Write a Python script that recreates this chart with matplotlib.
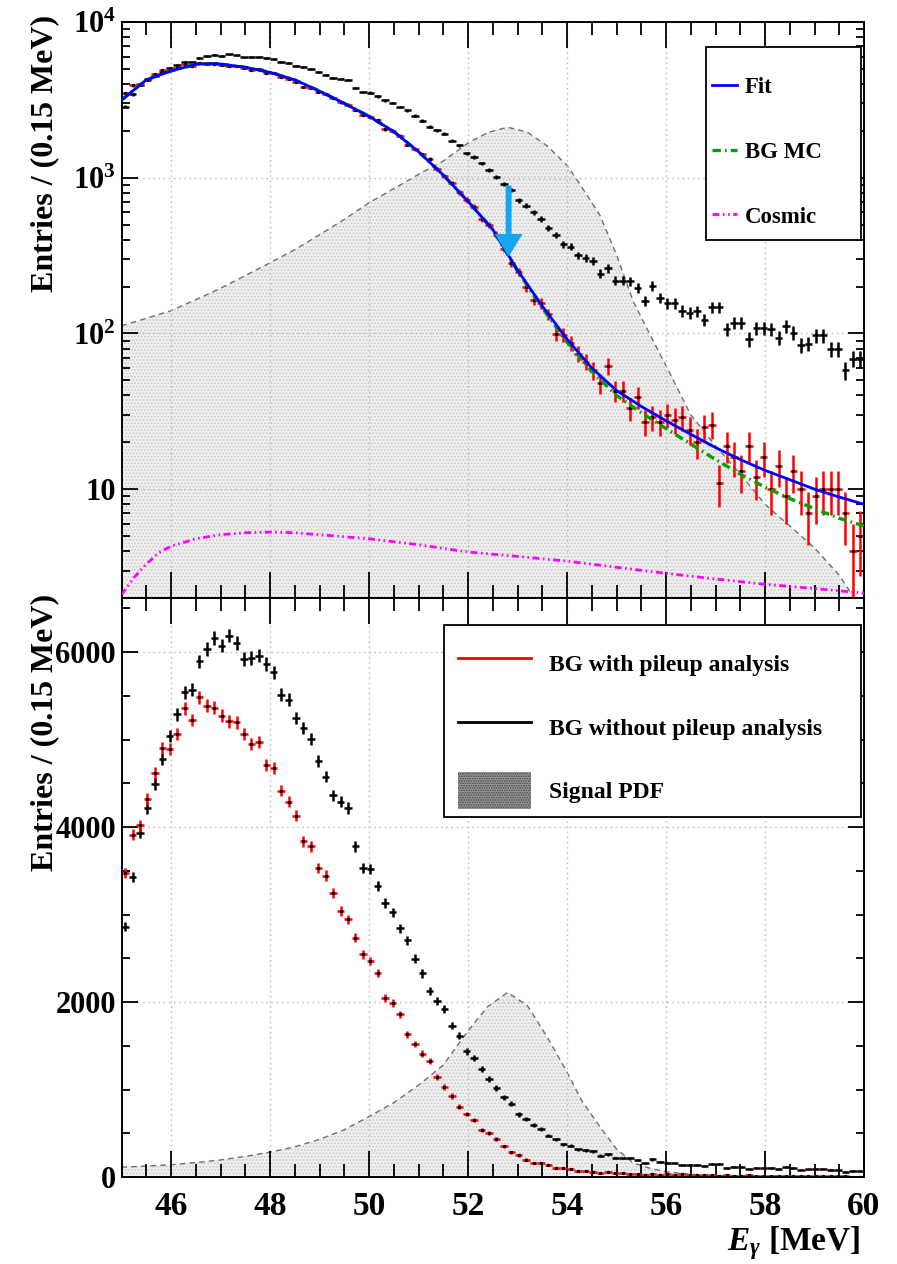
import numpy as np
import matplotlib
matplotlib.use('Agg')
import matplotlib.pyplot as plt
from matplotlib.ticker import FixedLocator, MultipleLocator, LogLocator, NullFormatter, FixedFormatter
from matplotlib.lines import Line2D
from matplotlib.patches import Patch, Rectangle

plt.rcParams['font.family'] = ['Liberation Serif', 'DejaVu Serif']
plt.rcParams['font.weight'] = 'bold'
plt.rcParams['mathtext.fontset'] = 'custom'
plt.rcParams['mathtext.rm'] = 'Liberation Serif:bold'
plt.rcParams['mathtext.bf'] = 'Liberation Serif:bold'
plt.rcParams['mathtext.it'] = 'Liberation Serif:italic:bold'
plt.rcParams['hatch.linewidth'] = 0.8
plt.rcParams['lines.scale_dashes'] = False

# histogram binning: 45-60 MeV, 0.15 MeV bins
x_lo, x_hi, bin_w = 45.0, 60.0, 0.15

# BG with pileup analysis (red)
bg_with = [3478, 3912, 4019, 4324, 4621, 4903, 4895, 5067, 5360, 5227,
           5486, 5390, 5364, 5276, 5208, 5200, 5067, 4952, 4971, 4705,
           4678, 4419, 4293, 4133, 3838, 3779, 3535, 3447, 3248, 3045,
           2945, 2735, 2545, 2469, 2335, 2050, 1985, 1859, 1631, 1520,
           1410, 1326, 1139, 1029, 926, 804, 720, 651, 540, 499,
           431, 351, 285, 249, 199, 164, 157, 133, 99, 98,
           87, 74, 66, 58, 48, 62, 43, 43, 33, 39,
           27, 29, 27, 30, 28, 29, 24, 20, 25, 26,
           11, 19, 16, 13, 19, 12, 16, 10, 14, 9,
           13, 10, 7, 9, 10, 10, 10, 7, 4, 5]

# BG without pileup analysis (black)
bg_without = [2861, 3428, 3935, 4217, 4495, 4777, 5044, 5288, 5543, 5570,
              5897, 6038, 6164, 6076, 6190, 6103, 5924, 5935, 5962, 5867,
              5771, 5516, 5455, 5249, 5135, 5009, 4758, 4579, 4362, 4293,
              4217, 3779, 3535, 3524, 3328, 3135, 3025, 2845, 2705, 2497,
              2328, 2126, 2013, 1920, 1730, 1615, 1435, 1360, 1234, 1122,
              1015, 912, 835, 715, 662, 598, 545, 474, 430, 373,
              360, 317, 305, 292, 242, 262, 218, 218, 217, 196,
              162, 202, 169, 157, 157, 140, 136, 139, 122, 147,
              147, 107, 117, 117, 92, 108, 108, 106, 94, 111,
              101, 84, 86, 97, 97, 79, 79, 58, 69, 69]

# fit curve (blue)
fit_x = [45.0, 45.5, 46.0, 46.5, 46.9, 47.5, 48.0, 48.5, 49.0, 49.5,
         50.0, 50.5, 51.0, 51.5, 52.0, 52.5, 53.0, 53.5, 54.0, 54.5,
         55.0, 55.5, 56.0, 56.5, 57.0, 57.5, 58.0, 58.5, 59.0, 59.5, 60.0]
fit_y = [3150, 4250, 4850, 5350, 5420, 5120, 4750, 4250, 3600, 3000,
         2480, 1980, 1470, 1040, 705, 465, 255, 150, 92, 60,
         43, 34, 27.5, 22.5, 18.5, 15.5, 13.2, 11.5, 10.0, 8.9, 8.0]

# BG MC (green)
mc_x = [45.0, 45.5, 46.0, 46.5, 46.9, 47.5, 48.0, 48.5, 49.0, 49.5,
        50.0, 50.5, 51.0, 51.5, 52.0, 52.5, 53.0, 53.5, 54.0, 54.5,
        55.0, 55.5, 56.0, 56.5, 57.0, 57.5, 58.0, 58.5, 59.0, 59.5, 60.0]
mc_y = [3150, 4250, 4850, 5350, 5420, 5120, 4750, 4250, 3600, 3000,
        2480, 1980, 1470, 1040, 705, 465, 252, 146, 88, 57,
        40, 31, 24.5, 19.5, 15.5, 12.5, 10.3, 8.7, 7.5, 6.5, 5.8]

# cosmic (magenta)
cosmic_x = [45.0, 45.25, 45.5, 45.75, 46.0, 46.5, 47.0, 47.5, 48.0, 48.5,
            49.0, 50.0, 51.0, 52.0, 53.0, 54.0, 55.0, 56.0, 57.0, 58.0,
            59.0, 60.0]
cosmic_y = [2.1, 2.7, 3.3, 3.9, 4.3, 4.8, 5.1, 5.25, 5.3, 5.25,
            5.1, 4.8, 4.4, 3.95, 3.7, 3.45, 3.15, 2.88, 2.65, 2.45,
            2.3, 2.15]

# signal PDF (gray)
sig_x = [45.0, 45.5, 46.0, 46.65, 47.0, 47.5, 48.0, 48.5, 49.0, 49.5,
         50.0, 50.5, 51.0, 51.5, 52.0, 52.4, 52.8, 53.2, 53.6, 54.0,
         54.3, 54.67, 55.0, 55.34, 55.7, 56.0, 56.5, 57.0, 57.5, 58.0,
         58.5, 59.0, 59.5, 59.8]
sig_y = [112, 125, 140, 173, 195, 235, 284, 345, 430, 540,
         690, 850, 1050, 1280, 1670, 1950, 2110, 1960, 1600, 1200,
         870, 570, 320, 160, 95, 62, 30, 19, 12.5, 8.0,
         5.8, 4.2, 2.8, 2.0]

centers = x_lo + bin_w * (np.arange(len(bg_with)) + 0.5)
red = np.array(bg_with, dtype=float)
blk = np.array(bg_without, dtype=float)

fig = plt.figure(figsize=(8.97, 12.64), dpi=100)
L, R = 121.5 / 897, 864 / 897
ax1 = fig.add_axes([L, 1 - 598 / 1264, R - L, 576 / 1264])
ax2 = fig.add_axes([L, 1 - 1177 / 1264, R - L, 579 / 1264], sharex=ax1)

sig_fill = dict(facecolor='#f0f0f0', edgecolor='#c8c8c8', hatch='.....', linewidth=0)
sig_line = dict(color='#707070', lw=1.0, dashes=(4, 3))
err_kw = dict(fmt='none', elinewidth=1.8, capsize=0)

# ---- top panel (log) ----
ax1.fill_between(sig_x, sig_y, 1e-3, zorder=1, **sig_fill)
ax1.plot(sig_x, sig_y, zorder=1.2, **sig_line)
ax1.errorbar(centers, blk, xerr=bin_w / 2, yerr=np.sqrt(blk), ecolor='black', zorder=2, **err_kw)
ax1.errorbar(centers, red, xerr=bin_w / 2, yerr=np.sqrt(red), ecolor='red', zorder=2.1, **err_kw)
ax1.plot(centers, red, 's', ms=1.3, color='black', zorder=2.2)
ax1.plot(mc_x, mc_y, color='#00a000', lw=2.4, dashes=(6, 3, 1.2, 3), zorder=3)
ax1.plot(fit_x, fit_y, color='blue', lw=2.0, zorder=3.1)
ax1.plot(cosmic_x, cosmic_y, color='magenta', lw=2.0, dashes=(5, 2.5, 1.2, 2.5, 1.2, 2.5), zorder=3)
ax1.annotate('', xy=(52.82, 310), xytext=(52.82, 890),
             arrowprops=dict(facecolor='#14a5f5', edgecolor='none', width=4.3,
                             headwidth=20, headlength=16.5, shrink=0), zorder=4)

ax1.set_yscale('log')
ax1.set_ylim(2, 1e4)
ax1.set_xlim(x_lo, x_hi)
ax1.yaxis.set_major_locator(FixedLocator([10, 100, 1000, 10000]))
ax1.yaxis.set_major_formatter(FixedFormatter(['10', '$10^{2}$', '$10^{3}$', '$10^{4}$']))
ax1.yaxis.set_minor_locator(LogLocator(base=10, subs=np.arange(2, 10), numticks=20))
ax1.yaxis.set_minor_formatter(NullFormatter())
ax1.tick_params(labelbottom=False)

# legend box drawn separately so the padding can differ from ROOT-like spacing
ax1.add_patch(Rectangle((0.787, 0.6215), 0.209, 0.335, transform=ax1.transAxes,
                        facecolor='white', edgecolor='black', lw=1.3, zorder=4.9))
ax1.legend(handles=[Line2D([], [], color='blue', lw=2.0),
                    Line2D([], [], color='#00a000', lw=2.4, dashes=(6, 3, 1.2, 3)),
                    Line2D([], [], color='magenta', lw=2.0, dashes=(5, 2.5, 1.2, 2.5, 1.2, 2.5))],
           labels=['Fit', 'BG MC', 'Cosmic'],
           loc='upper left', bbox_to_anchor=(0.795, 0.904), frameon=False,
           fontsize=16.5, handlelength=1.1, handletextpad=0.35,
           labelspacing=1.9, borderpad=0, borderaxespad=0)

# ---- bottom panel (linear) ----
ax2.fill_between(sig_x, sig_y, 0, zorder=1, **sig_fill)
ax2.plot(sig_x, sig_y, zorder=1.2, **sig_line)
ax2.errorbar(centers, blk, xerr=bin_w / 2, yerr=np.sqrt(blk), ecolor='black', zorder=2, **err_kw)
ax2.errorbar(centers, red, xerr=bin_w / 2, yerr=np.sqrt(red), ecolor='red', zorder=2.1, **err_kw)
ax2.plot(centers, red, 's', ms=1.3, color='black', zorder=2.2)
ax2.set_ylim(0, 6620)
ax2.yaxis.set_major_locator(FixedLocator([0, 2000, 4000, 6000]))
ax2.yaxis.set_minor_locator(MultipleLocator(500))
ax2.xaxis.set_major_locator(MultipleLocator(2))
ax2.xaxis.set_minor_locator(MultipleLocator(0.5))

ax2.add_patch(Rectangle((0.4343, 0.6218), 0.5617, 0.3316, transform=ax2.transAxes,
                        facecolor='white', edgecolor='black', lw=1.3, zorder=4.9))
ax2.legend(handles=[Line2D([], [], color='red', lw=2.0),
                    Line2D([], [], color='black', lw=2.0),
                    Patch(facecolor='#9a9a9a', edgecolor='#404040', hatch='.......', lw=0)],
           labels=['BG with pileup analysis', 'BG without pileup analysis', 'Signal PDF'],
           loc='upper left', bbox_to_anchor=(0.453, 0.918), frameon=False,
           fontsize=17, handlelength=3.1, handleheight=2.0,
           handletextpad=0.75, labelspacing=1.14, borderpad=0, borderaxespad=0)

for ax in (ax1, ax2):
    ax.grid(True, which='major', color='#c0c0c0', ls=(0, (1.2, 2.5)), lw=1.0)
    ax.tick_params(which='both', direction='in', top=True, right=True, width=1.3, labelsize=22, pad=4)
    ax.tick_params(axis='x', which='major', length=19)
    ax.tick_params(axis='x', which='minor', length=9.5)
    ax.tick_params(axis='y', which='major', length=11.5)
    ax.tick_params(axis='y', which='minor', length=6)
    for s in ax.spines.values():
        s.set_linewidth(1.4)
ax2.tick_params(axis='x', labelsize=24, pad=10)

fig.text(45 / 897, 1 - 15 / 1264, 'Entries / (0.15 MeV)', rotation=90,
         ha='center', va='top', fontsize=23, fontweight='bold')
fig.text(45 / 897, 1 - 594 / 1264, 'Entries / (0.15 MeV)', rotation=90,
         ha='center', va='top', fontsize=23, fontweight='bold')
fig.text(861 / 897, 1 - 1243 / 1264, r'$E_{\gamma}$ [MeV]', ha='right', va='center',
         fontsize=24, fontweight='bold')

fig.savefig('out.png', dpi=100)
